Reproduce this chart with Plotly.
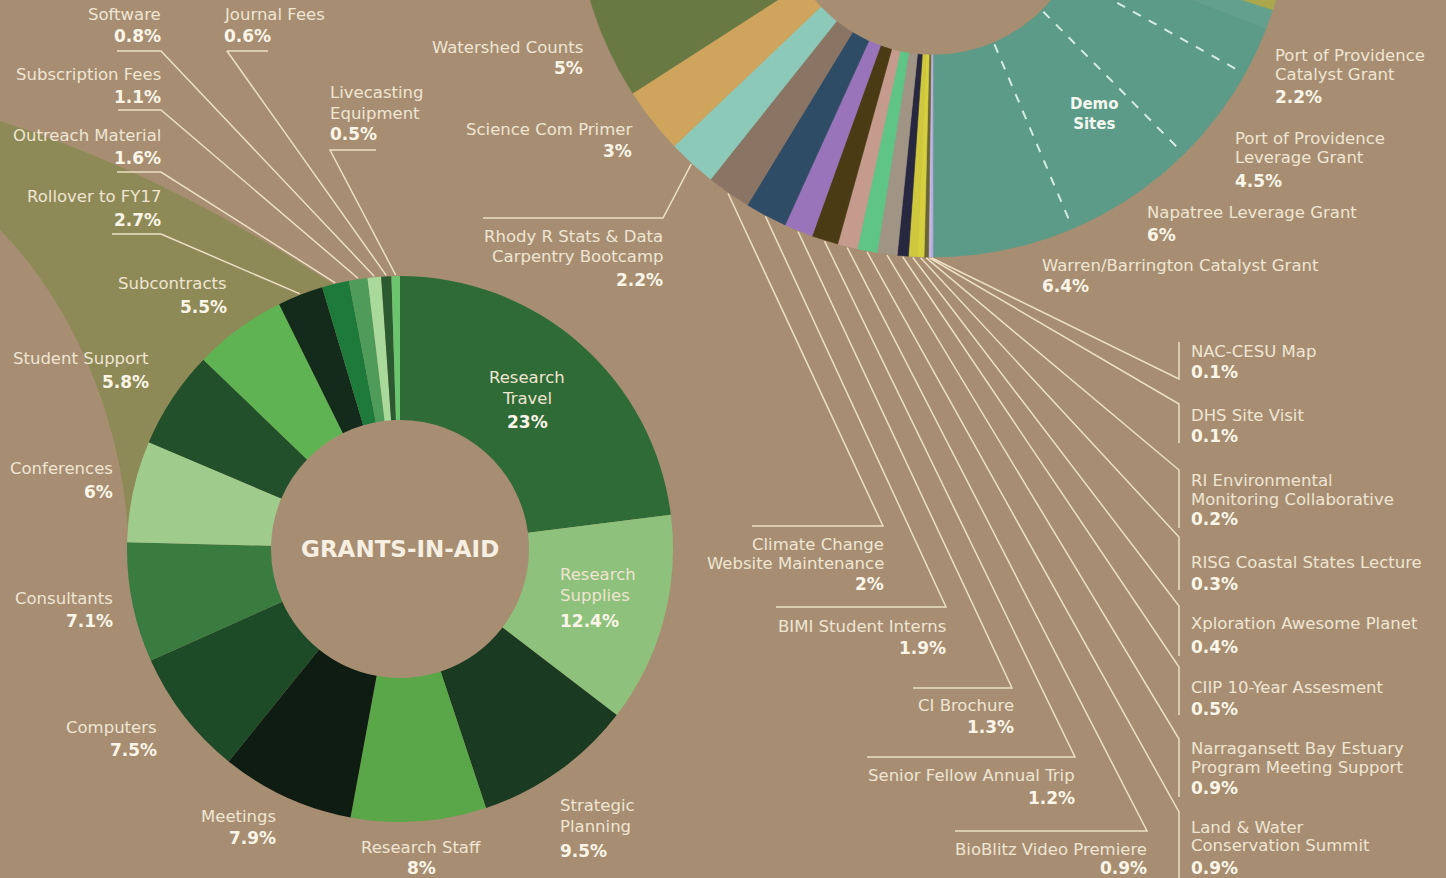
import math
import plotly.graph_objects as go

W, H = 1446, 878

# ---------------- DATA ----------------
# Grants-in-Aid donut (clockwise from 12 o'clock)
gia_labels = ["Research Travel", "Research Supplies", "Strategic Planning", "Research Staff",
              "Meetings", "Computers", "Consultants", "Conferences", "Student Support",
              "Subcontracts", "Rollover to FY17", "Outreach Material", "Subscription Fees",
              "Software", "Journal Fees", "Livecasting Equipment"]
gia_values = [23, 12.4, 9.5, 8, 7.9, 7.5, 7.1, 6, 5.8, 5.5, 2.7, 1.6, 1.1, 0.8, 0.6, 0.5]

# Program donut, partially visible at the top (clockwise order)
top_labels = ["Other grant A (cropped)", "Other grant B (cropped)",
              "Port of Providence Catalyst Grant", "Port of Providence Leverage Grant",
              "Napatree Leverage Grant", "Warren/Barrington Catalyst Grant",
              "NAC-CESU Map", "DHS Site Visit", "RI Environmental Monitoring Collaborative",
              "RISG Coastal States Lecture", "Xploration Awesome Planet", "CIIP 10-Year Assesment",
              "Narragansett Bay Estuary Program Meeting Support", "Land & Water Conservation Summit",
              "BioBlitz Video Premiere", "Senior Fellow Annual Trip", "CI Brochure",
              "BIMI Student Interns", "Climate Change Website Maintenance",
              "Rhody R Stats & Data Carpentry Bootcamp", "Science Com Primer",
              "Watershed Counts", "Other programs (cropped)"]
top_values = [3, 0.9, 2.2, 4.5, 6, 6.4, 0.1, 0.1, 0.2, 0.3, 0.4, 0.5, 0.9, 0.9, 0.9, 1.2, 1.3,
              1.9, 2, 2.2, 3, 5, 56.1]
demo_sites = ["Port of Providence Catalyst Grant", "Port of Providence Leverage Grant",
              "Napatree Leverage Grant", "Warren/Barrington Catalyst Grant"]

# Text lines of each label
label_lines = {
    "Research Travel": ["Research", "Travel"],
    "Research Supplies": ["Research", "Supplies"],
    "Strategic Planning": ["Strategic", "Planning"],
    "Livecasting Equipment": ["Livecasting", "Equipment"],
    "Port of Providence Catalyst Grant": ["Port of Providence", "Catalyst Grant"],
    "Port of Providence Leverage Grant": ["Port of Providence", "Leverage Grant"],
    "RI Environmental Monitoring Collaborative": ["RI Environmental", "Monitoring Collaborative"],
    "Narragansett Bay Estuary Program Meeting Support": ["Narragansett Bay Estuary",
                                                         "Program Meeting Support"],
    "Land & Water Conservation Summit": ["Land & Water", "Conservation Summit"],
    "Climate Change Website Maintenance": ["Climate Change", "Website Maintenance"],
    "Rhody R Stats & Data Carpentry Bootcamp": ["Rhody R Stats & Data", "Carpentry Bootcamp"],
}

# ---------------- STYLE / LAYOUT ----------------
BG = "#a78e72"
TXT = "#efe5d2"
PCT = "#fbf5e8"
LINE = "#ecdfc4"
FONT = "DejaVu Sans"

gia_colors = {
    "Research Travel": "#2f6b36", "Research Supplies": "#8ec17b", "Strategic Planning": "#1b3a22",
    "Research Staff": "#59a749", "Meetings": "#0f1c12", "Computers": "#1d4a27",
    "Consultants": "#3a7b3f", "Conferences": "#9fcc8c", "Student Support": "#22502b",
    "Subcontracts": "#60b353", "Rollover to FY17": "#142a1a", "Outreach Material": "#1d7a3b",
    "Subscription Fees": "#4f9b5a", "Software": "#a9d99b", "Journal Fees": "#2b5a31",
    "Livecasting Equipment": "#6bc56f",
}
top_colors = {
    "Other grant A (cropped)": "#aaa84a", "Other grant B (cropped)": "#63a08e",
    "Port of Providence Catalyst Grant": "#5c9b87", "Port of Providence Leverage Grant": "#5c9b87",
    "Napatree Leverage Grant": "#5c9b87", "Warren/Barrington Catalyst Grant": "#5c9b87",
    "NAC-CESU Map": "#b7a9e0", "DHS Site Visit": "#c6bbe6",
    "RI Environmental Monitoring Collaborative": "#6b6535",
    "RISG Coastal States Lecture": "#d6d03f", "Xploration Awesome Planet": "#cfc83e",
    "CIIP 10-Year Assesment": "#27283f", "Narragansett Bay Estuary Program Meeting Support": "#a09484",
    "Land & Water Conservation Summit": "#5ec586", "BioBlitz Video Premiere": "#c49b8d",
    "Senior Fellow Annual Trip": "#4a3b14", "CI Brochure": "#9a74bb",
    "BIMI Student Interns": "#2f4c67", "Climate Change Website Maintenance": "#8a7565",
    "Rhody R Stats & Data Carpentry Bootcamp": "#8dc9b9", "Science Com Primer": "#cfa45c",
    "Watershed Counts": "#697944", "Other programs (cropped)": "#697944",
}

# geometry
GX, GY, GR, Gr = 400, 549, 273, 129          # grants-in-aid donut
TX, TY, TR, Tr = 933, -100, 357, 155         # top donut (centre above the page)
TOP_ANCHOR = ("Warren/Barrington Catalyst Grant", 180.0)  # slice ends at 6 o'clock

# label placement: label -> (x, xanchor, [name line y's], percent y)
label_pos = {
    "Research Travel": (527, "center", [377, 398], 422),
    "Research Supplies": (559, "left", [574, 595], 621),
    "Strategic Planning": (559, "left", [805, 826], 851),
    "Research Staff": (421, "center", [847], 868),
    "Meetings": (277, "right", [816], 838),
    "Computers": (158, "right", [727], 750),
    "Consultants": (114, "right", [598], 621),
    "Conferences": (114, "right", [468], 492),
    "Student Support": (150, "right", [358], 382),
    "Subcontracts": (228, "right", [283], 307),
    "Rollover to FY17": (162, "right", [196], 220),
    "Outreach Material": (162, "right", [135], 158),
    "Subscription Fees": (162, "right", [74], 97),
    "Software": (162, "right", [14], 36),
    "Journal Fees": (223, "left", [14], 36),
    "Livecasting Equipment": (329, "left", [92, 113], 134),
    "Watershed Counts": (584, "right", [47], 68),
    "Science Com Primer": (633, "right", [129], 151),
    "Rhody R Stats & Data Carpentry Bootcamp": (664, "right", [236, 256], 280),
    "Port of Providence Catalyst Grant": (1274, "left", [55, 74], 97),
    "Port of Providence Leverage Grant": (1234, "left", [138, 157], 181),
    "Napatree Leverage Grant": (1146, "left", [212], 235),
    "Warren/Barrington Catalyst Grant": (1041, "left", [265], 286),
    "Climate Change Website Maintenance": (885, "right", [544, 563], 584),
    "BIMI Student Interns": (947, "right", [626], 648),
    "CI Brochure": (1015, "right", [705], 727),
    "Senior Fellow Annual Trip": (1076, "right", [775], 798),
    "BioBlitz Video Premiere": (1148, "right", [849], 868),
    "NAC-CESU Map": (1190, "left", [351], 372),
    "DHS Site Visit": (1190, "left", [415], 436),
    "RI Environmental Monitoring Collaborative": (1190, "left", [480, 499], 519),
    "RISG Coastal States Lecture": (1190, "left", [562], 584),
    "Xploration Awesome Planet": (1190, "left", [623], 647),
    "CIIP 10-Year Assesment": (1190, "left", [687], 709),
    "Narragansett Bay Estuary Program Meeting Support": (1190, "left", [748, 767], 788),
    "Land & Water Conservation Summit": (1190, "left", [827, 845], 868),
}

# leader lines: label -> (joint point, bar end point)
leaders = {
    "Rollover to FY17": ((161, 234), (112, 234)),
    "Outreach Material": ((161, 172), (117, 172)),
    "Subscription Fees": ((161, 110), (118, 110)),
    "Software": ((161, 51), (117, 51)),
    "Journal Fees": ((227, 51), (268, 51)),
    "Livecasting Equipment": ((330, 150), (376, 150)),
    "Rhody R Stats & Data Carpentry Bootcamp": ((663, 218), (483, 218)),
    "Climate Change Website Maintenance": ((883, 526), (752, 526)),
    "BIMI Student Interns": ((946, 607), (776, 607)),
    "CI Brochure": ((1012, 688), (913, 688)),
    "Senior Fellow Annual Trip": ((1075, 757), (867, 757)),
    "BioBlitz Video Premiere": ((1147, 831), (955, 831)),
    "NAC-CESU Map": ((1179, 379), (1179, 342)),
    "DHS Site Visit": ((1179, 404), (1179, 443)),
    "RI Environmental Monitoring Collaborative": ((1179, 470), (1179, 528)),
    "RISG Coastal States Lecture": ((1179, 537), (1179, 590)),
    "Xploration Awesome Planet": ((1179, 606), (1179, 656)),
    "CIIP 10-Year Assesment": ((1179, 667), (1179, 715)),
    "Narragansett Bay Estuary Program Meeting Support": ((1179, 739), (1179, 797)),
    "Land & Water Conservation Summit": ((1179, 812), (1179, 878)),
}


def polar_pt(cx, cy, rad, ang):
    t = math.radians(ang)
    return cx + rad * math.sin(t), cy - rad * math.cos(t)


fig = go.Figure()

# ---------------- top donut, drawn as filled arcs on pixel axes ----------------
tot = sum(top_values)
ai = top_labels.index(TOP_ANCHOR[0])
start = TOP_ANCHOR[1] - 360 * sum(top_values[:ai + 1]) / tot
top_ang = {}
a = start
for lab, v in zip(top_labels, top_values):
    a0, a1 = a, a + 360 * v / tot
    top_ang[lab] = (a0, a1)
    a = a1
    n = max(3, int((a1 - a0) / 0.4) + 2)
    outer = [polar_pt(TX, TY, TR, a0 + (a1 - a0) * k / (n - 1)) for k in range(n)]
    inner = [polar_pt(TX, TY, Tr, a1 - (a1 - a0) * k / (n - 1)) for k in range(n)]
    pts = outer + inner + [outer[0]]
    col = top_colors[lab]
    fig.add_trace(go.Scatter(
        x=[p[0] for p in pts], y=[p[1] for p in pts], mode="lines", fill="toself",
        fillcolor=col, line=dict(color=col, width=0.6), hoveron="fills",
        name=lab, hoverinfo="name", showlegend=False))

# dashed separators between the demo-site grants
dx, dy = [], []
for lab in demo_sites[:-1]:
    ang = top_ang[lab][1]
    p0 = polar_pt(TX, TY, Tr + 2, ang)
    p1 = polar_pt(TX, TY, TR - 10, ang)
    dx += [p0[0], p1[0], None]
    dy += [p0[1], p1[1], None]
fig.add_trace(go.Scatter(x=dx, y=dy, mode="lines", hoverinfo="skip", showlegend=False,
                         line=dict(color="#d3ece2", width=2, dash="dash")))

# ---------------- Grants-in-aid donut (pie trace) ----------------
fig.add_trace(go.Pie(
    values=gia_values, labels=gia_labels, sort=False, direction="clockwise", rotation=0,
    hole=Gr / GR, textinfo="none", showlegend=False,
    marker=dict(colors=[gia_colors[l] for l in gia_labels], line=dict(width=0)),
    domain=dict(x=[(GX - GR) / W, (GX + GR) / W], y=[1 - (GY + GR) / H, 1 - (GY - GR) / H]),
    hovertemplate="%{label}: %{value}%<extra></extra>"))

gtot = sum(gia_values)
gia_mid = {}
c = 0
for lab, v in zip(gia_labels, gia_values):
    gia_mid[lab] = 360 * (c + v / 2) / gtot
    c += v

# ---------------- leader lines ----------------
lx, ly = [], []
for lab, (joint, end) in leaders.items():
    if lab in gia_mid:
        p = polar_pt(GX, GY, GR + 1, gia_mid[lab])
    else:
        a0, a1 = top_ang[lab]
        p = polar_pt(TX, TY, TR + 1, (a0 + a1) / 2)
    lx += [p[0], joint[0], end[0], None]
    ly += [p[1], joint[1], end[1], None]
fig.add_trace(go.Scatter(x=lx, y=ly, mode="lines", hoverinfo="skip", showlegend=False,
                         line=dict(color=LINE, width=1.5)))

# ---------------- text ----------------
annotations = []
values_by_label = dict(zip(gia_labels, gia_values))
values_by_label.update(dict(zip(top_labels, top_values)))
for lab, (x, anchor, ys, py) in label_pos.items():
    lines = label_lines.get(lab, [lab])
    for t, yy in zip(lines, ys):
        annotations.append(dict(x=x, y=yy, xref="x", yref="y", text=t, showarrow=False,
                                xanchor=anchor, yanchor="middle", borderpad=0,
                                font=dict(family=FONT, size=16.5, color=TXT)))
    annotations.append(dict(x=x, y=py, xref="x", yref="y",
                            text="<b>%g%%</b>" % values_by_label[lab], showarrow=False,
                            xanchor=anchor, yanchor="middle", borderpad=0,
                            font=dict(family=FONT, size=17, color=PCT)))

annotations.append(dict(x=GX, y=GY, xref="x", yref="y", text="<b>GRANTS-IN-AID</b>",
                        showarrow=False, xanchor="center", yanchor="middle",
                        font=dict(family=FONT, size=23, color="#f6efe2")))
annotations.append(dict(x=1094, y=114, xref="x", yref="y", text="<b>Demo<br>Sites</b>",
                        showarrow=False, xanchor="center", yanchor="middle",
                        font=dict(family=FONT, size=15, color="#f3f7f0")))

# decorative olive swoosh behind the grants-in-aid donut
swoosh = dict(type="path", xref="x", yref="y", layer="below",
              path="M 0 121 Q 170 175 345 292 L 300 420 L 128 532 C 120 400 60 290 0 230 Z",
              fillcolor="#8e8a57", line=dict(width=0))

fig.update_layout(
    width=W, height=H, margin=dict(l=0, r=0, t=0, b=0),
    paper_bgcolor=BG, plot_bgcolor=BG, showlegend=False,
    xaxis=dict(range=[0, W], visible=False, fixedrange=True),
    yaxis=dict(range=[H, 0], visible=False, fixedrange=True),
    annotations=annotations, shapes=[swoosh],
    font=dict(family=FONT, color=TXT),
)

fig.write_html(
    "out.html",
    config={"displayModeBar": False},
    post_script="document.body.style.margin='0';document.body.style.overflow='hidden';"
                "document.body.style.background='" + BG + "';",
)
